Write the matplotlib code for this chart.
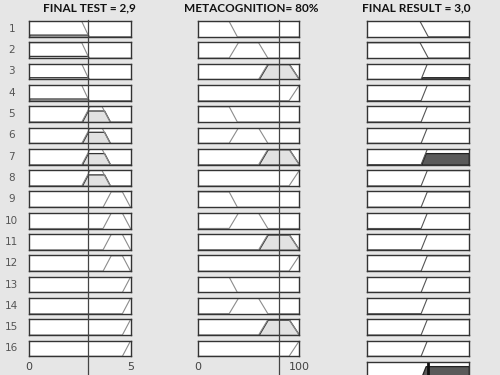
import numpy as np
import matplotlib
matplotlib.use('Agg')
import matplotlib.pyplot as plt
from matplotlib.lines import Line2D
from matplotlib.transforms import blended_transform_factory

# inputs / output of the fuzzy system
test_value = 2.9
meta_value = 80
result_value = 3.0

titles = ['FINAL TEST = 2,9', 'METACOGNITION= 80%', 'FINAL RESULT = 3,0']
ranges = [(0, 5), (0, 100), (0, 5)]
tick_labels = [['0', '5'], ['0', '100']]

# membership functions (trapezoid corners)
test_mfs = {'low': [0, 0, 2.6, 2.95], 'medium': [2.6, 3.0, 3.6, 4.0],
            'high': [3.65, 4.05, 4.6, 5.0], 'very_high': [4.6, 5, 5, 5]}
meta_mfs = {'low': [0, 0, 31, 39], 'medium': [31, 40, 60, 69],
            'high': [60, 69, 90, 100], 'very_high': [90, 100, 100, 100]}
result_mfs = {'fail': [0, 0, 2.6, 3.0], 'pass': [2.65, 2.95, 5, 5]}

# 16 rules
rule_test = ['low'] * 4 + ['medium'] * 4 + ['high'] * 4 + ['very_high'] * 4
rule_meta = ['low', 'medium', 'high', 'very_high'] * 4
rule_result = ['fail', 'fail'] + ['pass'] * 14


def trapmf(x, p):
    a, b, c, d = p
    x = np.asarray(x, float)
    up = np.ones_like(x) if b == a else np.clip((x - a) / (b - a), 0, 1)
    down = np.ones_like(x) if d == c else np.clip((d - x) / (d - c), 0, 1)
    y = np.minimum(up, down)
    y[(x < a) | (x > d)] = 0
    return y


W, H = 500, 375
fig = plt.figure(figsize=(5, 3.75), dpi=100, facecolor='#e6e6e6')

col_left = [29, 197.7, 367.3]
col_w = 101.5
row_top0, row_pitch, row_h = 21, 21.3, 15.8

bg_gray = '#e6e6e6'
box_col = '#333333'


def make_ax(col, row):
    top = row_top0 + row * row_pitch
    ax = fig.add_axes([col_left[col] / W, 1 - (top + row_h) / H, col_w / W, row_h / H])
    ax.set_xlim(*ranges[col])
    ax.set_ylim(0, 1.03)
    ax.set_xticks([])
    ax.set_yticks([])
    for s in ax.spines.values():
        s.set_color(box_col)
        s.set_linewidth(1.0)
    return ax


xs = [np.linspace(r[0], r[1], 600) for r in ranges]
aggregate = np.zeros_like(xs[2])
axes_cols = [[], [], []]

for i in range(16):
    mu1 = trapmf([test_value], test_mfs[rule_test[i]])[0]
    mu2 = trapmf([meta_value], meta_mfs[rule_meta[i]])[0]
    strength = min(mu1, mu2)

    for col, (mfs, name, mu) in enumerate([(test_mfs, rule_test[i], mu1),
                                           (meta_mfs, rule_meta[i], mu2)]):
        ax = make_ax(col, i)
        y = trapmf(xs[col], mfs[name])
        if mu > 0:
            ax.fill_between(xs[col], np.minimum(y, mu), color='#e2e2e2',
                            edgecolor='#333333', lw=0.9)
        ax.plot(xs[col], y, color='#8c8c8c', lw=0.8)
        axes_cols[col].append(ax)
        if col == 0:
            ax.text(-0.17, 0.5, str(i + 1), transform=ax.transAxes, ha='center',
                    va='center', fontsize=7.5, color='#555555')

    ax = make_ax(2, i)
    y = trapmf(xs[2], result_mfs[rule_result[i]])
    clipped = np.minimum(y, strength)
    aggregate = np.maximum(aggregate, clipped)
    if strength > 0:
        ax.fill_between(xs[2], clipped, color='#5a5a5a', edgecolor='#222222', lw=0.9)
    ax.plot(xs[2], y, color='#555555', lw=0.8)
    axes_cols[2].append(ax)

# aggregated output (cut off at the bottom)
ax = make_ax(2, 16)
ax.fill_between(xs[2], aggregate, color='#5a5a5a', edgecolor='#222222', lw=0.9)
ax.axvline(result_value, color='#111111', lw=2)

# tick labels under the input columns
for col in range(2):
    ax = axes_cols[col][-1]
    ax.set_xticks(list(ranges[col]))
    ax.set_xticklabels(tick_labels[col])
    ax.tick_params(length=0, pad=4, labelsize=8, colors='#444444')

# input value lines across all rows
for col, val in [(0, test_value), (1, meta_value)]:
    tr = blended_transform_factory(axes_cols[col][0].transData, fig.transFigure)
    fig.add_artist(Line2D([val, val], [0, 1 - 20 / H], transform=tr,
                          color='#444444', lw=0.9, zorder=5))

# column titles
for col in range(3):
    fig.text((col_left[col] + col_w / 2 + [10, 3, -2][col]) / W, 1 - 8 / H, titles[col],
             ha='center', va='center', fontsize=8.5, fontweight='bold',
             family=['Lato', 'DejaVu Sans'], color='#111111')

fig.savefig('out.png', dpi=100, facecolor=fig.get_facecolor())
